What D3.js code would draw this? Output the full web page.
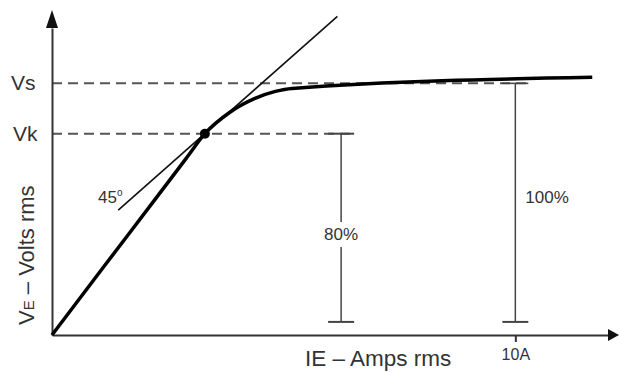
<!DOCTYPE html>
<html>
<head>
<meta charset="utf-8">
<script src="https://cdn.jsdelivr.net/npm/d3@7"></script>
<style>
    body { margin: 0; background: #fff; }
    svg text { font-family: "Liberation Sans", Arial, sans-serif; fill: #333; }
</style>
</head>
<body>
<div id="chart"></div>
<script>
// excitation curve: current in A, voltage in % of Vs
var curveAmps  = [0, 1.1,  2.2,  2.9,  3.3, 3.84, 4.38, 4.82, 5.18, 11.66];
var curveVolts = [0, 26.7, 53.3, 70.3, 80,  88.5, 94.0, 96.8, 98.0, 102.4];

// 45 deg tangent through the knee point
var tangentAmps  = [1.43, 6.16];
var tangentVolts = [49.6, 126.6];

var knee = [3.3, 80];

var levelNames  = ["Vk", "Vs"];
var levelValues = [80, 100];
var levelEnds   = [6.52, 10.27];   // where each dashed line stops (A)

var barNames  = ["80%", "100%"];
var barAmps   = [6.24, 10];
var barTops   = [80, 100];
var barBottom = 5.2;

var xTicks = [10];
var xTickLabels = ["10A"];

var width = 620, height = 372;

var x = d3.scaleLinear().domain([0, 12]).range([52, 608]);
var y = d3.scaleLinear().domain([0, 122]).range([335, 28]);

var svg = d3.select('#chart').append('svg')
    .attr('width', width)
    .attr('height', height);

// dashed reference levels
levelValues.forEach(function(v, i){
    svg.append('line')
        .attr('x1', x(0)).attr('x2', x(levelEnds[i]))
        .attr('y1', y(v)).attr('y2', y(v))
        .style('stroke', '#555')
        .style('stroke-width', 2)
        .style('stroke-dasharray', '10,6');
    svg.append('text')
        .attr('x', i === 0 ? 13 : 11)
        .attr('y', y(v) + 7)
        .style('font-size', '21px')
        .text(levelNames[i]);
});

// percentage bars
barAmps.forEach(function(a, i){
    let cx = x(a);
    let g = svg.append('g').style('stroke', '#444').style('stroke-width', 1.5);
    if (i === 0) {
        // line broken around the label
        g.append('line').attr('x1', cx).attr('x2', cx).attr('y1', y(barTops[i])).attr('y2', 222);
        g.append('line').attr('x1', cx).attr('x2', cx).attr('y1', 247).attr('y2', y(barBottom));
    } else {
        g.append('line').attr('x1', cx).attr('x2', cx).attr('y1', y(barTops[i])).attr('y2', y(barBottom));
    }
    g.append('line').attr('x1', cx - 13).attr('x2', cx + 13).attr('y1', y(barTops[i])).attr('y2', y(barTops[i]))
        .style('stroke-width', i === 0 ? 2 : 1.5);
    g.append('line').attr('x1', cx - 13).attr('x2', cx + 13).attr('y1', y(barBottom)).attr('y2', y(barBottom))
        .style('stroke-width', 2);

    svg.append('text')
        .attr('x', i === 0 ? cx : cx + 10)
        .attr('y', i === 0 ? 240 : 203)
        .attr('text-anchor', i === 0 ? 'middle' : 'start')
        .style('font-size', '17px')
        .text(barNames[i]);
});

// axes
let xAxis = d3.axisBottom(x)
    .tickValues(xTicks)
    .tickFormat(function(d, i){ return xTickLabels[i]; })
    .tickSize(7)
    .tickSizeOuter(0)
    .tickPadding(7);
let xg = svg.append('g')
    .attr('transform', 'translate(0,' + y(0) + ')')
    .call(xAxis);
xg.select('.domain').style('stroke', '#333').style('stroke-width', 2);
xg.selectAll('.tick line').style('stroke', '#333').style('stroke-width', 2);
xg.selectAll('.tick text')
    .style('font-size', '16px')
    .style('font-family', '"Liberation Sans", Arial, sans-serif')
    .attr('fill', '#333');

let yAxis = d3.axisLeft(y).tickValues([]).tickSizeOuter(0);
let yg = svg.append('g')
    .attr('transform', 'translate(' + x(0) + ',0)')
    .call(yAxis);
yg.select('.domain').style('stroke', '#333').style('stroke-width', 2);

// arrow heads
svg.append('path')
    .attr('d', 'M' + (x(0) - 6) + ',' + y(122) + 'L' + x(0) + ',10L' + (x(0) + 6) + ',' + y(122) + 'Z')
    .style('fill', '#111');
svg.append('path')
    .attr('d', 'M' + x(12) + ',' + (y(0) - 6) + 'L619,' + y(0) + 'L' + x(12) + ',' + (y(0) + 6) + 'Z')
    .style('fill', '#111');

// tangent
let line = d3.line()
    .x(function(d){ return x(d[0]); })
    .y(function(d){ return y(d[1]); });

svg.append('path')
    .attr('d', line(d3.zip(tangentAmps, tangentVolts)))
    .style('fill', 'none')
    .style('stroke', '#111')
    .style('stroke-width', 1.6);

// excitation curve
svg.append('path')
    .attr('d', line.curve(d3.curveMonotoneX)(d3.zip(curveAmps, curveVolts)))
    .style('fill', 'none')
    .style('stroke', '#000')
    .style('stroke-width', 3.5)
    .style('stroke-linejoin', 'round');

svg.append('circle')
    .attr('cx', x(knee[0]))
    .attr('cy', y(knee[1]))
    .attr('r', 5)
    .style('fill', '#000');

// 45 degree note
let t45 = svg.append('text')
    .attr('x', 98)
    .attr('y', 203)
    .style('font-size', '17px')
    .text('45');
t45.append('tspan')
    .attr('dy', -7)
    .style('font-size', '10px')
    .text('o');

// axis titles
svg.append('text')
    .attr('x', 305)
    .attr('y', 366)
    .style('font-size', '22.5px')
    .text('IE – Amps rms');

let yt = svg.append('text')
    .attr('transform', 'translate(34,325) rotate(-90)')
    .style('font-size', '22px')
    .text('V');
yt.append('tspan').style('font-size', '15px').text('E');
yt.append('tspan').text(' – Volts rms');
</script>
</body>
</html>
